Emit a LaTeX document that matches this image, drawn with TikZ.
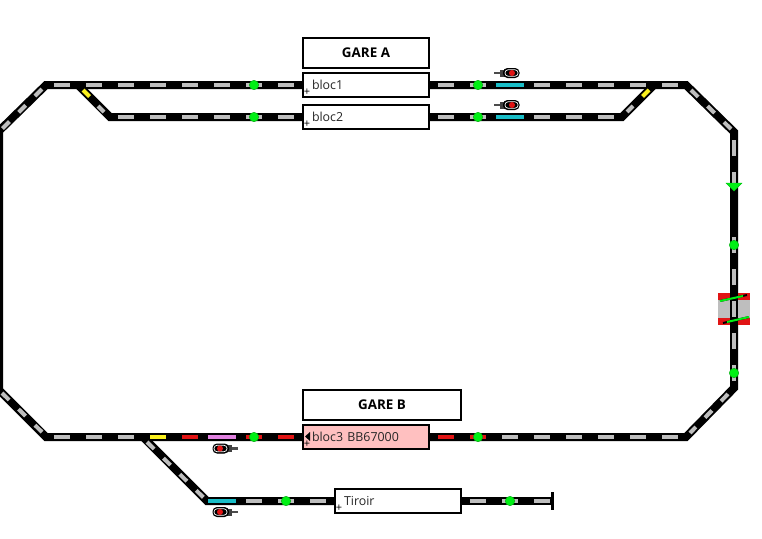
\documentclass[tikz,border=0pt]{standalone}
\usepackage{fontspec}
\setmainfont{Open Sans}
\usepackage{xcolor}
\usetikzlibrary{backgrounds}
\definecolor{railgrey}{RGB}{190,190,190}
\definecolor{railcyan}{RGB}{25,190,200}
\definecolor{railred}{RGB}{225,20,20}
\definecolor{railyellow}{RGB}{250,240,30}
\definecolor{railpink}{RGB}{225,130,225}
\definecolor{blocpink}{RGB}{255,192,192}
\definecolor{lampgreen}{RGB}{0,240,20}

% --- Loco icon: x, y, direction ---
\newcommand{\loco}[3]{
  \begin{scope}[shift={(#1,#2)}, xscale=#3]
    \draw[line width=2.5pt, black!70] (-18,0) -- (-10,0);
    \fill[black!75] (-12,-3.5) rectangle (-8,3.5);
    \draw[fill=black, draw=black, line width=1pt, rounded corners=4pt] (-8.5,-4.5) rectangle (7,4.5);
    \draw[draw=white, line width=0.7pt, rounded corners=3pt] (-7,-3.2) rectangle (6,3.2);
    \fill[railred] (0,0) circle (3pt);
  \end{scope}
}

\begin{document}
\begin{tikzpicture}[
  x=1pt, y=-1pt,
  track/.style={line width=8pt, black, line join=miter},
  rail/.style={line width=4pt},
  seg/.style={rail, railgrey, dash pattern=on 16pt off 16pt},
  diag/.style={rail, railgrey, dash pattern=on 10pt off 13pt},
  gare/.style={draw, line width=2pt, minimum height=30pt, minimum width=#1, inner sep=0pt, font=\fontsize{13.4}{15}\selectfont\bfseries},
  bloc/.style={draw, line width=2pt, fill=white, minimum height=24pt, minimum width=#1, text width=#1-9pt, align=left, inner sep=0pt, text=black!85, font=\fontsize{12.4}{14}\selectfont},
  lamp/.style={circle, fill=lampgreen, draw=lampgreen!70!black, line width=0.4pt, minimum size=9.5pt, inner sep=0pt},
  plus/.style={inner sep=0pt, font=\fontsize{11}{11}\selectfont}
]

\useasboundingbox (0,0) rectangle (762,538);

% --- Blocks ---
\node[gare=126pt] (gareA) at (366,53) {GARE A};
\node[bloc=126pt] (bloc1) at (366,85) {\hspace*{4.5pt}bloc1};
\node[bloc=126pt] (bloc2) at (366,117) {\hspace*{4.5pt}bloc2};
\node[gare=158pt] (gareB) at (382,405) {GARE B};
\node[bloc=126pt, fill=blocpink] (bloc3) at (366,437) {\hspace*{4.5pt}bloc3 BB67000};
\node[bloc=126pt] (tiroir) at (398,501) {\hspace*{4.5pt}Tiroir};
\node[plus] (plus1) at (307,92.5) {+};
\node[plus] (plus2) at (307,124.5) {+};
\node[plus] (plus3) at (307,444.5) {+};
\node[plus] (plus4) at (339,508.5) {+};
\fill (305,436.5) -- (310,432) -- (310,441) -- cycle;

% --- Track corners ---
\coordinate (tl) at (46,85);
\coordinate (tr) at (686,85);
\coordinate (rt) at (734,132);
\coordinate (rb) at (734,388);
\coordinate (br) at (686,437);
\coordinate (bl) at (46,437);
\coordinate (lb) at (-1,390);
\coordinate (lt) at (-1,131);
\coordinate (swa) at (78,85);
\coordinate (swb) at (110,117);
\coordinate (swc) at (622,117);
\coordinate (swd) at (654,85);
\coordinate (swe) at (143,437);
\coordinate (swf) at (207,501);
\coordinate (stop) at (552,501);

% --- Black track ---
\begin{scope}[on background layer]
\draw[track] (bloc1.west) -- (tl) -- (lt) -- (lb) -- (bl) -- (bloc3.west);
\draw[track] (bloc1.east) -- (tr) -- (rt) -- (rb) -- (br) -- (bloc3.east);
\draw[track] (swa) -- (swb) -- (bloc2.west);
\draw[track] (bloc2.east) -- (swc) -- (swd);
\draw[track] (swe) -- (swf) -- (tiroir.west);
\draw[track] (tiroir.east) -- (stop);
\end{scope}
\draw[line width=3pt] (552,492) -- (552,510);

% --- Top ---
\draw[seg] (54,85) -- (294,85);
\draw[seg] (118,117) -- (294,117);
\draw[seg] (438,85) -- (486,85);
\draw[seg] (438,117) -- (486,117);
\draw[seg] (534,85) -- (678,85);
\draw[seg] (534,117) -- (614,117);
\draw[rail, railcyan] (496,85) -- (524,85);
\draw[rail, railcyan] (496,117) -- (524,117);
\draw[rail, railyellow] (83,90) -- (89.5,96.5);
\draw[rail, railgrey] (98,106) -- (104,112);
\draw[rail, railgrey] (627,112) -- (633,106);
\draw[rail, railyellow] (642.5,96.5) -- (649,90);

% --- Diagonals ---
\draw[diag] (42,89) -- (0,131);
\draw[diag] (691,90) -- (731,129);
\draw[diag] (728,394) -- (690,433);
\draw[diag] (2,393) -- (43,433);
\draw[diag] (147,442) -- (204,498);

% --- Right side ---
\draw[seg] (734,140) -- (734,190);
\draw[seg] (734,237) -- (734,285);
\draw[seg] (734,333) -- (734,381);

% --- Turntable ---
\fill[railgrey] (718,293) rectangle (750,325);
\fill[railred] (718,293) rectangle (750,300);
\fill[railred] (718,318) rectangle (750,325);
\draw[line width=8pt] (734,285) -- (734,333);
\draw[rail, railgrey] (734,301) -- (734,317);
\draw[line width=2pt] (720,301) -- (747,295);
\draw[line width=2pt, lampgreen] (720,301) -- (743,296);
\draw[line width=2pt] (723,323) -- (749,317);
\draw[line width=2pt, lampgreen] (727,322) -- (749,317);

% --- Bottom ---
\draw[seg] (54,437) -- (134,437);
\draw[rail, railyellow] (150,437) -- (166,437);
\draw[rail, railred] (182,437) -- (198,437);
\draw[rail, railpink] (208,437) -- (236,437);
\draw[seg, railred] (246,437) -- (294,437);
\draw[seg, railred] (438,437) -- (486,437);
\draw[seg] (502,437) -- (678,437);
\draw[rail, railcyan] (208,501) -- (236,501);
\draw[seg] (246,501) -- (326,501);
\draw[seg] (470,501) -- (550,501);

% --- Lamps ---
\foreach \lx/\ly [count=\li] in {254/85, 254/117, 478/85, 478/117, 734/245, 734/373, 254/437, 478/437, 286/501, 510/501}
  \node[lamp] (lamp\li) at (\lx,\ly) {};
\draw[fill=lampgreen, draw=lampgreen!80!black, line width=0.4pt] (726,183) -- (742,183) -- (734,191) -- cycle;

% --- Locos ---
\loco{512}{73}{1}
\loco{512}{105}{1}
\loco{220}{448.5}{-1}
\loco{220}{512}{-1}

\end{tikzpicture}
\end{document}
